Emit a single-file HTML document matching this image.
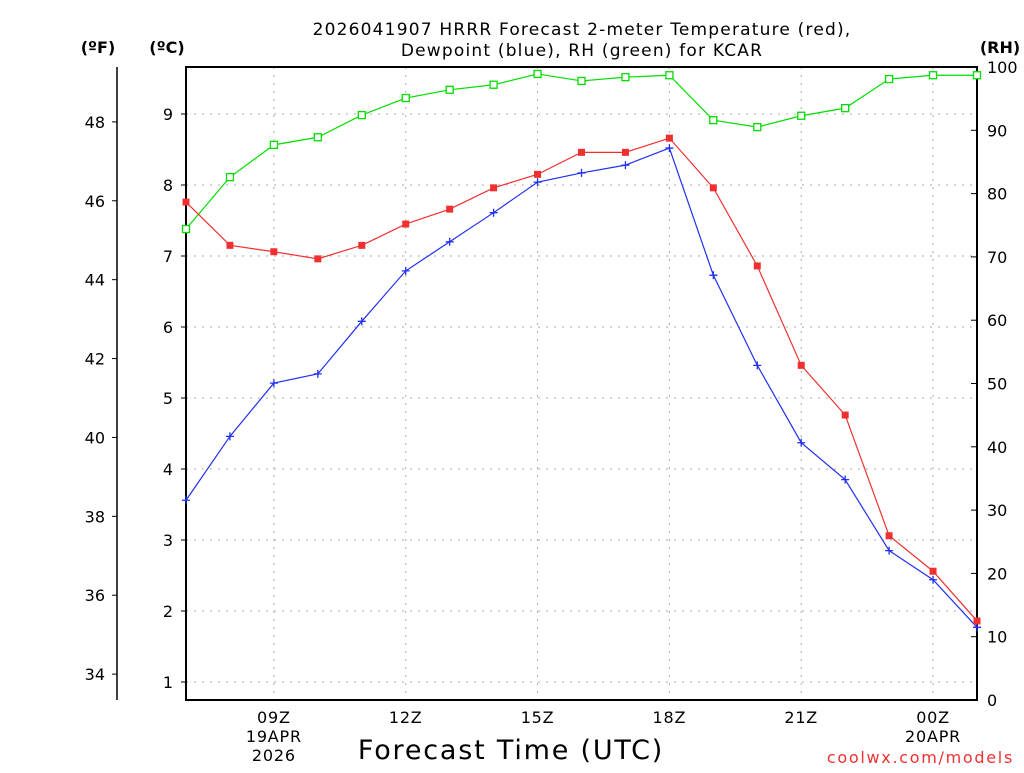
<!DOCTYPE html>
<html><head><meta charset="utf-8"><style>
body{margin:0;background:#fff;}
svg text{font-family:"DejaVu Sans","Liberation Sans",sans-serif;}
</style></head><body>
<svg id="c" width="1024" height="768" xmlns="http://www.w3.org/2000/svg">
<text x="582" y="35" font-size="17" letter-spacing="1.2" text-anchor="middle">2026041907 HRRR Forecast 2-meter Temperature (red),</text>
<text x="582" y="56" font-size="17" letter-spacing="1.2" text-anchor="middle">Dewpoint (blue), RH (green) for KCAR</text>
<text x="98" y="53" font-size="16" font-weight="bold" text-anchor="middle">(ºF)</text>
<text x="167" y="53" font-size="16" font-weight="bold" text-anchor="middle">(ºC)</text>
<text x="1000" y="53" font-size="16" font-weight="bold" text-anchor="middle">(RH)</text>
<text x="511" y="759" font-size="27" letter-spacing="1.8" text-anchor="middle">Forecast Time (UTC)</text>
<text x="1014" y="763" font-size="16" letter-spacing="1.7" fill="#f03030" text-anchor="end">coolwx.com/models</text>
<g id="g"></g>
</svg>
<script>
const hours=[7,8,9,10,11,12,13,14,15,16,17,18,19,20,21,22,23,24,25];
const tempC=[7.76,7.15,7.06,6.96,7.15,7.45,7.66,7.96,8.15,8.46,8.46,8.66,7.96,6.86,5.46,4.76,3.06,2.56,1.86];
const dewC=[3.56,4.46,5.21,5.34,6.08,6.79,7.20,7.61,8.04,8.17,8.28,8.52,6.73,5.46,4.37,3.85,2.85,2.44,1.77];
const rh=[74.4,82.6,87.7,88.9,92.4,95.1,96.4,97.2,98.9,97.8,98.4,98.7,91.6,90.5,92.3,93.5,98.1,98.7,98.7];
const cTicks=[1,2,3,4,5,6,7,8,9];
const fTicks=[34,36,38,40,42,44,46,48];
const rhTicks=[0,10,20,30,40,50,60,70,80,90,100];
const xTicks=[{h:9,l:["09Z","19APR","2026"]},{h:12,l:["12Z"]},{h:15,l:["15Z"]},{h:18,l:["18Z"]},{h:21,l:["21Z"]},{h:24,l:["00Z","20APR"]}];
const L=186,R=977,T=67,B=700;
const X=h=>L+(h-7)*(R-L)/18;
const YC=c=>682-(c-1)*71;
const YF=f=>YC((f-32)/1.8);
const YR=r=>B-r*(B-T)/100;
const g=document.getElementById('g');const NS='http://www.w3.org/2000/svg';
function el(t,a,txt){const e=document.createElementNS(NS,t);for(const k in a)e.setAttribute(k,a[k]);if(txt!==undefined)e.textContent=txt;g.appendChild(e);return e;}
cTicks.forEach(c=>{const y=YC(c);
 let e=el('line',{x1:L,x2:R,y1:y,y2:y,stroke:'#aaa','stroke-dasharray':'2,6'});
 e=el('line',{x1:L-5,x2:L,y1:y,y2:y,stroke:'#000'});
 e=el('text',{x:L-13,y:y+6,'font-size':16,'text-anchor':'end'},c);});
xTicks.forEach(t=>{const x=X(t.h);
 let e=el('line',{x1:x,x2:x,y1:T,y2:B,stroke:'#aaa','stroke-dasharray':'2,6'});
 t.l.forEach((s,i)=>{e=el('text',{x:x,y:723+i*19,'font-size':16,'letter-spacing':0.8,'text-anchor':'middle'},s);});});
let e=el('line',{x1:117,x2:117,y1:T,y2:B,stroke:'#000','stroke-width':1.5});
fTicks.forEach(f=>{const y=YF(f);
 let e=el('line',{x1:112,x2:117,y1:y,y2:y,stroke:'#000'});
 e=el('text',{x:105,y:y+6,'font-size':16,'text-anchor':'end'},f);});
rhTicks.forEach(r=>{const y=YR(r);
 let e=el('line',{x1:R-6,x2:R,y1:y,y2:y,stroke:'#000'});
 e=el('text',{x:987,y:y+6,'font-size':16},r);});
e=el('rect',{x:L,y:T,width:R-L,height:B-T,fill:'none',stroke:'#000','stroke-width':2});
function series(vals,yf,col,name,mk){
 const pts=vals.map((v,i)=>[X(hours[i]),yf(v)]);
 let e=el('polyline',{points:pts.map(p=>p.join(',')).join(' '),fill:'none',stroke:col,'stroke-width':1.2});
 pts.forEach(([x,y])=>{let m;
  if(mk==='fsq')m=el('rect',{x:x-3.5,y:y-3.5,width:7,height:7,fill:col});
  else if(mk==='osq')m=el('rect',{x:x-3.5,y:y-3.5,width:7,height:7,fill:'#fff',stroke:col,'stroke-width':1.3});
  else m=el('path',{d:`M${x-4},${y}H${x+4}M${x},${y-4}V${y+4}`,stroke:col,'stroke-width':1.3});
  });}
series(rh,YR,'#00dd00','rh','osq');
series(dewC,YC,'#2030f0','dewpoint','plus');
series(tempC,YC,'#f03030','temperature','fsq');
</script>
</body></html>
